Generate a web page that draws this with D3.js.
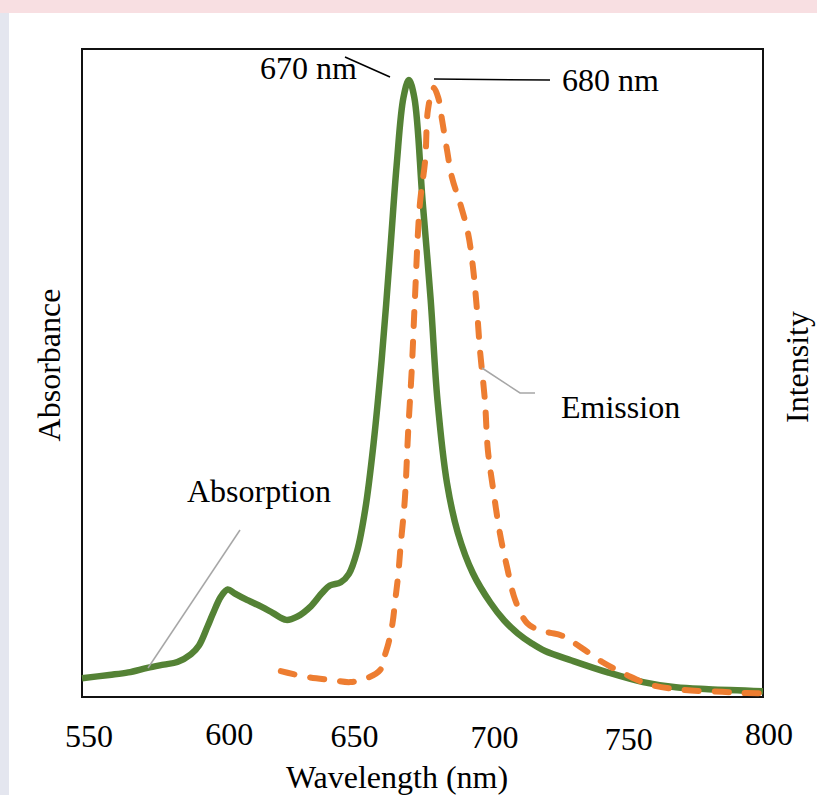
<!DOCTYPE html>
<html>
<head>
<meta charset="utf-8">
<script src="https://cdn.jsdelivr.net/npm/d3@7"></script>
<style>
  body { margin: 0; background: #fff; }
  text { font-family: "Liberation Serif", "Times New Roman", serif; fill: #000; }
</style>
</head>
<body>
<div class="visHolder"></div>
<script>
// absorption (green, solid)
const absWl  = [550,560,567,574,580,585,590,593,596,598,601,603.5,606,610,616,620,625,629,634,638,641,645,648,651,654,657,660,663,665.5,668,670,672,675,678,680.5,684,688,693.5,700,705,710,715,720,730,743,756,768,780,800];
const absVal = [0.029,0.034,0.038,0.045,0.050,0.054,0.066,0.080,0.108,0.128,0.155,0.166,0.160,0.151,0.139,0.130,0.119,0.124,0.140,0.160,0.172,0.177,0.190,0.225,0.290,0.390,0.520,0.680,0.820,0.925,0.952,0.925,0.767,0.613,0.458,0.330,0.253,0.191,0.145,0.118,0.098,0.083,0.071,0.056,0.038,0.023,0.015,0.012,0.009];

// emission (orange, dashed)
const emWl  = [623,632.5,642,648.5,654.5,659.5,661,662.5,664,665,666,667,668.5,669.7,671.1,672.2,674,676,677,679,680.7,682.2,684,685.8,688.8,691.7,693.5,695,696.1,697.9,699,701,703.4,706,709,713.4,718,722,726,732,741,750,758.5,770.5,785,794,804];
const emVal = [0.040,0.031,0.026,0.023,0.029,0.042,0.062,0.083,0.114,0.150,0.185,0.235,0.304,0.407,0.509,0.613,0.759,0.829,0.906,0.940,0.926,0.890,0.844,0.802,0.762,0.716,0.664,0.597,0.535,0.458,0.381,0.319,0.253,0.201,0.150,0.114,0.103,0.099,0.095,0.080,0.054,0.034,0.019,0.011,0.008,0.006,0.006];

const tickVals = [550,600,650,700,750,800];

const width = 817, height = 795;
const plotL = 82, plotR = 763, plotT = 49, plotB = 697;
const fs = "32px";

const svg = d3.select(".visHolder")
  .append("svg")
  .attr("width", width)
  .attr("height", height);

// page background bits (scan edges)
svg.append("rect").attr("x",0).attr("y",0).attr("width",width).attr("height",height).attr("fill","#fff");
svg.append("rect").attr("x",0).attr("y",0).attr("width",width).attr("height",13).attr("fill","#f8dfe2");
svg.append("rect").attr("x",0).attr("y",13).attr("width",9).attr("height",height-13).attr("fill","#e4e6ef");

const x = d3.scaleLinear().domain([550, 800]).range([plotL, plotR]);
const y = d3.scaleLinear().domain([0, 1]).range([plotB, plotT]);

// plot frame
svg.append("rect")
  .attr("x", plotL).attr("y", plotT)
  .attr("width", plotR-plotL).attr("height", plotB-plotT)
  .attr("fill", "none").attr("stroke", "#111").attr("stroke-width", 2);

const line = d3.line()
  .x(d => x(d[0]))
  .y(d => y(d[1]))
  .curve(d3.curveCatmullRom);

svg.append("path")
  .datum(absWl.map((w,i) => [w, absVal[i]]))
  .attr("d", line)
  .attr("fill", "none")
  .attr("stroke", "#548235")
  .attr("stroke-width", 6.5)
  .attr("stroke-linejoin", "round");

svg.append("path")
  .datum(emWl.map((w,i) => [w, emVal[i]]))
  .attr("d", line)
  .attr("fill", "none")
  .attr("stroke", "#ed7d31")
  .attr("stroke-width", 6)
  .attr("stroke-linecap", "round")
  .attr("stroke-dasharray", "14,16");

// x tick labels (small hand nudges like the original text boxes)
const nudgeX = [7, 11, 0, 4, 2, 6];
const nudgeY = [747, 745, 747, 748, 750, 745];
svg.selectAll(".tick-label")
  .data(tickVals)
  .enter()
  .append("text")
  .attr("class", "tick-label")
  .attr("x", (d,i) => x(d) + nudgeX[i])
  .attr("y", (d,i) => nudgeY[i])
  .attr("text-anchor", "middle")
  .style("font-size", fs)
  .text(d => d);

svg.append("text")
  .attr("x", 397).attr("y", 788)
  .attr("text-anchor", "middle")
  .style("font-size", fs)
  .text("Wavelength (nm)");

svg.append("text")
  .attr("transform", "translate(60,365) rotate(-90)")
  .attr("text-anchor", "middle")
  .style("font-size", fs)
  .text("Absorbance");

svg.append("text")
  .attr("transform", "translate(808,367) rotate(-90)")
  .attr("text-anchor", "middle")
  .style("font-size", fs)
  .text("Intensity");

// annotations
svg.append("line")
  .attr("x1", 345).attr("y1", 57).attr("x2", 390).attr("y2", 77)
  .attr("stroke", "#000").attr("stroke-width", 1.5);
svg.append("text")
  .attr("x", 260).attr("y", 79)
  .style("font-size", fs)
  .text("670 nm");

svg.append("line")
  .attr("x1", 434).attr("y1", 79).attr("x2", 550).attr("y2", 80)
  .attr("stroke", "#000").attr("stroke-width", 1.5);
svg.append("text")
  .attr("x", 562).attr("y", 91)
  .style("font-size", fs)
  .text("680 nm");

svg.append("line")
  .attr("x1", 148).attr("y1", 668).attr("x2", 240).attr("y2", 530)
  .attr("stroke", "#a6a6a6").attr("stroke-width", 1.5);
svg.append("text")
  .attr("x", 187).attr("y", 502)
  .style("font-size", fs)
  .text("Absorption");

svg.append("polyline")
  .attr("points", "482,368 520,393 535,393")
  .attr("fill", "none")
  .attr("stroke", "#a6a6a6").attr("stroke-width", 1.5);
svg.append("text")
  .attr("x", 561).attr("y", 418)
  .style("font-size", fs)
  .text("Emission");
</script>
</body>
</html>
